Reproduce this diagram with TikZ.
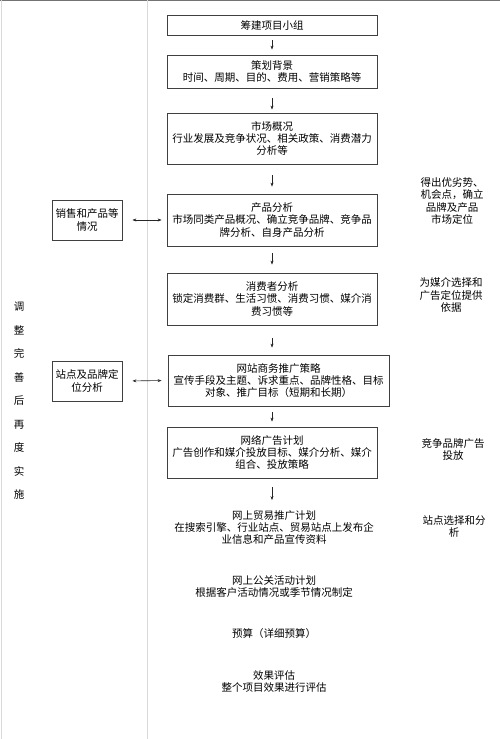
\documentclass[tikz,border=0pt]{standalone}
\usepackage{fontspec}
\newfontfamily\cjk{Noto Sans CJK SC}
\usetikzlibrary{arrows.meta}
\begin{document}
\begin{tikzpicture}[x=1pt,y=-1pt,
  font=\cjk\fontsize{10.5}{12.3}\selectfont,
  box/.style={draw=black!75, line width=0.8pt, minimum width=210pt, align=center, inner sep=0pt},
  sidebox/.style={draw=black!75, line width=0.8pt, minimum width=70pt, minimum height=40pt, align=center, inner sep=0pt},
  txt/.style={align=center, inner sep=0pt},
  arr/.style={-{Stealth[length=4pt,width=3pt]}, line width=0.6pt, black!85},
  darr/.style={{Stealth[length=4pt,width=3pt]}-{Stealth[length=4pt,width=3pt]}, line width=0.6pt, black!85},
  frame/.style={line width=0.8pt}]
\useasboundingbox (0,0) rectangle (500,739);
% frame
\draw[line width=1.2pt, black!55] (0,0.6) -- (500,0.6);
\draw[frame, black!15] (1.5,0) -- (1.5,739);
\draw[frame, black!15] (147.5,0) -- (147.5,739);
% main boxes
\node[box, minimum height=20pt] (b1) at (272,25) {筹建项目小组};
\node[box, minimum height=33pt] (b2) at (272,71.5) {策划背景\\时间、周期、目的、费用、营销策略等};
\node[box, minimum height=51pt] (b3) at (272,138.5) {市场概况\\行业发展及竞争状况、相关政策、消费潜力\\分析等};
\node[box, minimum height=52pt] (b4) at (272,220) {产品分析\\市场同类产品概况、确立竞争品牌、竞争品\\牌分析、自身产品分析};
\node[box, minimum height=52pt] (b5) at (272,299) {消费者分析\\锁定消费群、生活习惯、消费习惯、媒介消\\费习惯等};
\node[box, minimum width=221pt, minimum height=51pt] (b6) at (278.5,380.5) {网站商务推广策略\\宣传手段及主题、诉求重点、品牌性格、目标\\对象、推广目标（短期和长期）};
\node[box, minimum height=51pt] (b7) at (272,452.5) {网络广告计划\\广告创作和媒介投放目标、媒介分析、媒介\\组合、投放策略};
% plain text steps
\node[txt] (t1) at (274,527.5) {网上贸易推广计划\\在搜索引擎、行业站点、贸易站点上发布企\\业信息和产品宣传资料};
\node[txt] (t2) at (274,586.5) {网上公关活动计划\\根据客户活动情况或季节情况制定};
\node[txt] (t3) at (274,634) {预算（详细预算）};
\node[txt] (t4) at (274,681.5) {效果评估\\整个项目效果进行评估};
% side boxes
\node[sidebox] (s1) at (87,220) {销售和产品等\\情况};
\node[sidebox] (s2) at (87,381) {站点及品牌定\\位分析};
% right notes
\node[txt] (r1) at (452,201) {得出优劣势、\\机会点，确立\\品牌及产品\\市场定位};
\node[txt] (r2) at (451,295) {为媒介选择和\\广告定位提供\\依据};
\node[txt] (r3) at (453,449.5) {竞争品牌广告\\投放};
\node[txt] (r4) at (454,526.5) {站点选择和分\\析};
% left vertical text
\node[txt, font=\cjk\fontsize{10.5}{23.5}\selectfont] (v) at (19,401) {调\\整\\完\\善\\后\\再\\度\\实\\施};
% arrows
\draw[arr, shorten <=5pt, shorten >=5pt] (b1) -- (b2);
\draw[arr, shorten <=10pt, shorten >=3pt] (b2) -- (b3);
\draw[arr, shorten <=11pt, shorten >=7pt] (b3) -- (b4);
\draw[arr, shorten <=7pt, shorten >=8pt] (b4) -- (b5);
\draw[arr, shorten <=13pt, shorten >=7pt] (b5.south) -- (b5.south |- b6.north);
\draw[arr, shorten <=6pt, shorten >=5pt] (b6.south -| b7.north) -- (b7.north);
\draw[arr, shorten <=9pt, shorten >=10pt] (b7.south) -- (b7.south |- t1.north);
\draw[darr, shorten <=10pt, shorten >=5pt] (s1.east) -- (b4.west);
\draw[darr, shorten <=10pt, shorten >=6pt] (s2.east) -- (b6.west);
\end{tikzpicture}
\end{document}
